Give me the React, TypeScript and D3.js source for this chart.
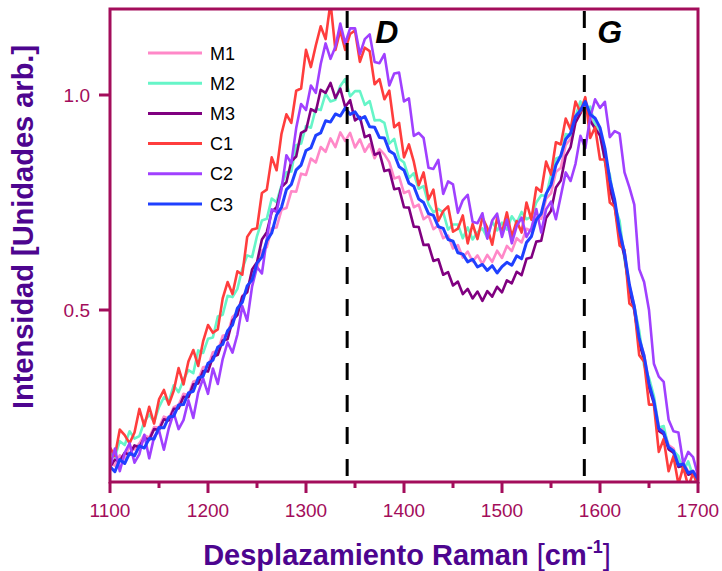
import React from 'react';
import * as d3 from 'd3';

// Raman shift grid (cm^-1), 5 cm^-1 steps
const shift = d3.range(1100, 1701, 5);

const M1 = [
  .146,.138,.162,.155,.183,.176,.19,.209,.203,.228,.226,.252,.247,.274,.279,.305,.302,.333,.338,.367,
  .369,.402,.405,.44,.443,.484,.494,.533,.541,.587,.595,.638,.646,.69,.692,.733,.737,.776,.775,.817,
  .814,.852,.843,.879,.868,.899,.879,.913,.893,.912,.878,.897,.868,.886,.853,.874,.862,.844,.806,.81,
  .772,.777,.739,.745,.711,.72,.688,.697,.667,.673,.643,.651,.622,.636,.613,.627,.607,.628,.612,.638,
  .621,.649,.637,.667,.657,.689,.684,.716,.712,.759,.771,.821,.831,.884,.898,.952,.968,.991,.951,.932,
  .917,.86,.793,.752,.682,.634,.557,.51,.433,.396,.33,.293,.229,.221,.186,.178,.145,.146,.124,.126,.107
];
const M2 = [
  .168,.158,.195,.186,.218,.201,.207,.24,.257,.24,.274,.297,.287,.325,.309,.338,.36,.353,.406,.40,
  .433,.436,.485,.489,.533,.53,.549,.596,.627,.623,.672,.708,.712,.759,.751,.79,.82,.822,.883,.887,
  .928,.924,.968,.965,1.003,.985,.989,1.021,1.037,.997,1.009,1.009,.977,.986,.941,.942,.935,.887,.898,.852,
  .843,.807,.818,.782,.788,.746,.727,.735,.727,.687,.699,.699,.667,.692,.664,.681,.69,.668,.706,.685,
  .703,.687,.718,.702,.728,.711,.717,.75,.767,.765,.814,.852,.857,.909,.906,.95,.985,.959,.973,.929,
  .918,.843,.815,.741,.708,.618,.549,.509,.452,.371,.342,.30,.227,.23,.179,.173,.16,.124,.148,.114,.118
];
const M3 = [
  .135,.152,.149,.168,.163,.185,.181,.203,.198,.223,.221,.246,.243,.27,.271,.298,.297,.327,.329,.358,
  .357,.391,.396,.429,.432,.476,.488,.531,.542,.594,.611,.664,.681,.728,.739,.786,.797,.846,.857,.912,
  .918,.967,.961,1.012,1.005,1.028,.993,1.015,.972,.988,.941,.949,.902,.907,.861,.866,.823,.826,.781,.783,
  .739,.738,.694,.693,.651,.652,.614,.618,.582,.588,.557,.566,.537,.549,.527,.543,.521,.544,.531,.554,
  .541,.569,.562,.589,.581,.619,.622,.659,.661,.714,.731,.785,.801,.858,.879,.936,.957,.985,.94,.922,
  .906,.85,.782,.741,.671,.625,.547,.499,.423,.386,.32,.283,.219,.211,.176,.168,.135,.138,.117,.121,.103
];
const C1 = [
  .18,.161,.222,.209,.19,.215,.27,.23,.275,.236,.292,.314,.28,.312,.365,.327,.38,.407,.37,.427,
  .465,.447,.455,.527,.565,.537,.59,.582,.67,.687,.69,.772,.78,.855,.825,.91,.955,.935,1.01,1.015,
  1.105,1.065,1.115,1.16,1.13,1.215,1.105,1.15,1.105,1.142,1.15,1.077,1.11,1.102,1.025,1.037,.99,1.01,.925,.935,
  .855,.885,.845,.79,.82,.757,.78,.707,.73,.741,.682,.689,.72,.655,.70,.665,.715,.691,.652,.714,
  .68,.727,.67,.707,.68,.75,.71,.785,.775,.845,.815,.89,.885,.945,.92,.985,.96,.995,.90,.925,
  .85,.85,.75,.74,.65,.64,.515,.505,.395,.38,.28,.28,.17,.20,.125,.16,.095,.135,.09,.12,.09
];
const C2 = [
  .135,.178,.125,.168,.19,.145,.165,.21,.155,.205,.22,.175,.225,.261,.223,.244,.29,.249,.308,.341,
  .305,.364,.328,.386,.425,.401,.443,.509,.475,.555,.60,.585,.665,.734,.728,.781,.86,.841,.923,.979,
  .965,1.022,1.005,1.072,1.12,1.084,1.112,1.166,1.12,1.155,1.155,1.095,1.13,1.141,1.077,1.074,1.095,1.022,1.05,1.052,
  .985,.992,.905,.912,.90,.831,.828,.849,.77,.799,.792,.726,.755,.768,.705,.702,.725,.666,.708,.724,
  .67,.71,.655,.695,.715,.67,.69,.735,.68,.734,.752,.711,.765,.82,.80,.84,.905,.876,.947,.99,
  .97,.984,.902,.916,.91,.82,.785,.745,.595,.565,.50,.375,.345,.333,.245,.218,.215,.143,.17,.158,.115
];
const C3 = [
  .136,.124,.152,.143,.167,.161,.184,.179,.201,.2,.227,.226,.251,.253,.279,.28,.307,.311,.342,.346,
  .376,.383,.414,.42,.452,.465,.504,.518,.556,.57,.609,.623,.661,.679,.721,.739,.78,.792,.826,.837,
  .871,.877,.906,.912,.94,.937,.956,.951,.97,.955,.961,.944,.95,.926,.925,.901,.9,.87,.863,.833,
  .825,.795,.788,.758,.75,.724,.72,.694,.69,.664,.66,.633,.63,.612,.618,.6,.606,.592,.603,.586,
  .601,.611,.604,.626,.619,.657,.671,.71,.724,.77,.791,.837,.859,.897,.911,.95,.964,.985,.955,.946,
  .924,.876,.804,.756,.684,.633,.559,.508,.434,.393,.329,.288,.224,.215,.181,.172,.139,.142,.121,.125,.106
];

const seriesNames = ['M1', 'M2', 'M3', 'C1', 'C2', 'C3'];
const seriesValues = [M1, M2, M3, C1, C2, C3];
const seriesColors = ['#FF88C8', '#66F5C8', '#800080', '#FF3D3D', '#A040FF', '#1F40FF'];

const xMajorTicks = [1100, 1200, 1300, 1400, 1500, 1600, 1700];
const xMinorTicks = [1150, 1250, 1350, 1450, 1550, 1650];
const yTicks = [0.5, 1.0];
const peakPositions = [1342, 1584];
const peakLabels = ['D', 'G'];

const AXIS = '#A30D5B';
const TITLE = '#4D058F';
const FONT = "Arial, 'Liberation Sans', sans-serif";

export default function App() {
  const W = 722, H = 571;
  const left = 110, right = 698, top = 9, bottom = 482;
  const x = d3.scaleLinear().domain([1100, 1700]).range([left, right]);
  const y = d3.scaleLinear().domain([0.1, 1.2]).range([bottom, top]);
  const line = d3.line<number>().x((_, i) => x(shift[i])).y(d => y(d));
  const labelOffsets = [28, 13];

  return (
    <svg width={W} height={H} style={{ position: 'absolute', left: 0, top: 0, background: '#fff' }} fontFamily={FONT}>
      <defs>
        <clipPath id="plot">
          <rect x={left} y={top} width={right - left} height={bottom - top} />
        </clipPath>
      </defs>
      <g clipPath="url(#plot)">
        {seriesValues.map((vals, k) => (
          <path key={k} d={line(vals) || ''} fill="none" stroke={seriesColors[k]}
            strokeWidth={k === 5 ? 3 : 2.6} strokeLinejoin="round" />
        ))}
      </g>
      {peakPositions.map((p, i) => (
        <g key={i}>
          <line x1={x(p)} x2={x(p)} y1={top + 2} y2={bottom} stroke="#000" strokeWidth={3}
            strokeDasharray="17,15" />
          <text x={x(p) + labelOffsets[i]} y={43} fontSize={32} fontWeight="bold" fontStyle="italic" fill="#000">{peakLabels[i]}</text>
        </g>
      ))}
      {/* legend */}
      {seriesNames.map((n, i) => (
        <g key={n} transform={`translate(148, ${53 + i * 30.2})`}>
          <line x1={0} x2={54} y1={0} y2={0} stroke={seriesColors[i]} strokeWidth={3} />
          <text x={62} y={6.5} fontSize={18} fill="#000">{n}</text>
        </g>
      ))}
      {/* frame */}
      <rect x={left} y={top} width={right - left} height={bottom - top} fill="none" stroke={AXIS} strokeWidth={3} />
      {/* x ticks */}
      {xMajorTicks.map(t => (
        <g key={t}>
          <line x1={x(t)} x2={x(t)} y1={bottom} y2={bottom + 11} stroke={AXIS} strokeWidth={3} />
          <text x={x(t)} y={517} fontSize={19} textAnchor="middle" fill={AXIS}>{t}</text>
        </g>
      ))}
      {xMinorTicks.map(t => (
        <line key={t} x1={x(t)} x2={x(t)} y1={bottom} y2={bottom + 6} stroke={AXIS} strokeWidth={3} />
      ))}
      {/* y ticks */}
      {yTicks.map(t => (
        <g key={t}>
          <line x1={left - 11} x2={left} y1={y(t)} y2={y(t)} stroke={AXIS} strokeWidth={3} />
          <text x={90} y={y(t) + 7} fontSize={19} textAnchor="end" fill={AXIS}>{t.toFixed(1)}</text>
        </g>
      ))}
      {/* axis titles */}
      <text x={407} y={565} fontSize={29} textAnchor="middle" fill={TITLE} fontWeight="bold">
        Desplazamiento Raman <tspan fontWeight="normal">[</tspan>cm<tspan fontSize={18} dy={-12}>-1</tspan><tspan fontWeight="normal" dy={12}>]</tspan>
      </text>
      <text transform="translate(33, 227) rotate(-90)" fontSize={29} textAnchor="middle" fill={TITLE} fontWeight="bold">
        Intensidad [Unidades arb.]
      </text>
    </svg>
  );
}
